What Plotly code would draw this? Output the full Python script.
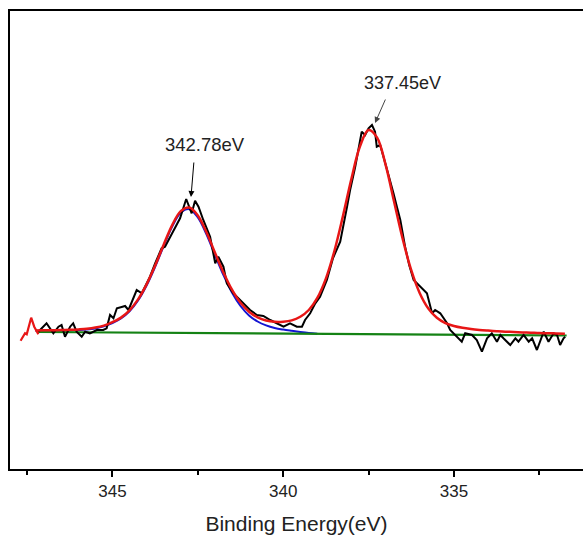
import plotly.graph_objects as go

# Raw spectrum (binding energy in eV, intensity in arbitrary units)
data_energy = [347.17, 346.93, 346.73, 346.58, 346.49, 346.39, 346.24, 346.15, 346.05, 345.90,
               345.80, 345.66, 345.46, 345.27, 345.17, 345.07, 344.97, 344.87, 344.73, 344.63,
               344.53, 344.43, 344.29, 344.14, 344.07, 343.90, 343.75, 343.56, 343.46, 343.31,
               343.17, 343.02, 342.84, 342.68, 342.58, 342.48, 342.34, 342.14, 341.99, 341.90,
               341.75, 341.65, 341.46, 341.26, 341.06, 340.97, 340.77, 340.58, 340.38, 340.19,
               339.99, 339.80, 339.60, 339.45, 339.36, 339.21, 339.06, 338.92, 338.72, 338.54,
               338.33, 338.13, 338.04, 337.89, 337.75, 337.70, 337.60, 337.50, 337.40, 337.31,
               337.26, 337.16, 337.01, 336.87, 336.77, 336.67, 336.57, 336.43, 336.31, 336.18,
               335.99, 335.79, 335.64, 335.55, 335.40, 335.20, 335.11, 334.91, 334.77, 334.67,
               334.47, 334.33, 334.18, 334.03, 333.89, 333.74, 333.64, 333.55, 333.35, 333.20,
               333.11, 332.96, 332.81, 332.71, 332.57, 332.37, 332.23, 332.08, 331.98, 331.89,
               331.79, 331.74]
data_intensity = [137.3, 145.7, 135.7, 142.3, 144.0, 132.3, 142.3, 145.7, 137.3, 132.3,
                  137.3, 135.7, 139.0, 139.0, 140.7, 154.0, 150.7, 160.7, 162.0, 163.0,
                  159.0, 167.3, 179.0, 175.7, 181.0, 192.3, 205.7, 220.7, 222.3, 232.3,
                  242.3, 250.7, 270.0, 255.7, 268.3, 262.3, 249.0, 232.3, 205.7, 212.3,
                  202.3, 185.7, 175.7, 169.0, 162.3, 159.0, 154.0, 153.0, 149.0, 145.7,
                  142.3, 145.7, 142.3, 142.3, 149.0, 155.7, 165.7, 172.3, 189.0, 211.0,
                  227.3, 262.3, 279.0, 302.3, 329.0, 337.3, 334.0, 340.7, 344.0, 337.3,
                  322.3, 324.0, 305.7, 289.0, 275.7, 262.3, 249.0, 222.3, 204.0, 189.0,
                  182.3, 175.7, 155.7, 159.0, 155.7, 145.7, 139.0, 132.3, 127.3, 135.7,
                  134.0, 129.0, 117.3, 130.7, 135.7, 127.3, 134.0, 130.7, 124.0, 130.7,
                  127.3, 134.0, 127.3, 130.7, 119.0, 137.3, 127.3, 135.7, 134.0, 124.0,
                  130.7, 132.3]

# Leading part of the trace shown in red
head_energy = [347.69, 347.56, 347.51, 347.38, 347.29, 347.17]
head_intensity = [128.3, 135.7, 134.7, 151.3, 142.3, 134.7]

# Fit grid
fit_energy = [347.25, 347.0, 346.75, 346.5, 346.25, 346.0, 345.75, 345.5, 345.25, 345.0,
              344.75, 344.5, 344.25, 344.0, 343.75, 343.5, 343.25, 343.0, 342.75, 342.5,
              342.25, 342.0, 341.75, 341.5, 341.25, 341.0, 340.75, 340.5, 340.25, 340.0,
              339.75, 339.5, 339.25, 339.0, 338.75, 338.5, 338.25, 338.0, 337.75, 337.5,
              337.25, 337.0, 336.75, 336.5, 336.25, 336.0, 335.75, 335.5, 335.25, 335.0,
              334.75, 334.5, 334.25, 334.0, 333.75, 333.5, 333.25, 333.0, 332.75, 332.5,
              332.25, 332.0, 331.75]
# Cumulative fit envelope (red)
envelope = [138.5, 138.7, 138.8, 138.9, 139.2, 139.6, 140.2, 141.4, 143.4, 146.8,
            151.4, 158.7, 169.6, 184.6, 203.4, 224.3, 243.9, 257.9, 261.5, 253.5,
            237.0, 216.5, 196.6, 179.3, 166.2, 157.3, 151.7, 148.5, 147.2, 147.3,
            148.6, 152.2, 159.0, 171.1, 190.4, 218.0, 252.9, 290.4, 322.7, 338.9,
            331.4, 304.1, 267.0, 230.0, 198.8, 175.8, 160.5, 151.2, 145.9, 143.0,
            141.2, 140.0, 139.1, 138.4, 137.8, 137.3, 137.0, 136.6, 136.3, 135.9,
            135.8, 135.5, 135.3]
# 342.78 eV component (blue)
comp_a_energy = fit_energy[:34]
comp_a = [138.0, 138.2, 138.2, 138.3, 138.6, 138.9, 139.5, 140.6, 142.6, 145.9,
          150.5, 157.7, 168.5, 183.5, 202.2, 223.0, 242.5, 256.3, 259.8, 251.6,
          234.9, 214.2, 194.0, 176.4, 163.0, 153.6, 147.5, 143.6, 141.0, 139.4,
          138.2, 137.1, 136.1, 135.3]
# Background (green)
bg_energy = [347.2, 331.7]
bg_intensity = [137.0, 133.5]

peak_labels = ["342.78eV", "337.45eV"]

FONT = "Liberation Sans, Arial, sans-serif"
RED = "rgb(232,22,22)"
fig = go.Figure()
fig.add_trace(go.Scatter(x=comp_a_energy, y=comp_a, mode="lines", line=dict(color="rgb(20,20,210)", width=2, shape="spline"), showlegend=False))
fig.add_trace(go.Scatter(x=bg_energy, y=bg_intensity, mode="lines", line=dict(color="rgb(20,130,20)", width=2.2), showlegend=False))
fig.add_trace(go.Scatter(x=data_energy, y=data_intensity, mode="lines", line=dict(color="black", width=2), showlegend=False))
fig.add_trace(go.Scatter(x=head_energy, y=head_intensity, mode="lines", line=dict(color=RED, width=2.2), showlegend=False))
fig.add_trace(go.Scatter(x=fit_energy, y=envelope, mode="lines", line=dict(color=RED, width=2.5, shape="spline"), showlegend=False))

# Arrows
fig.add_annotation(x=342.70, y=272, ax=3, ay=-36, text="", showarrow=True, arrowhead=2, arrowsize=1.2, arrowwidth=1, arrowcolor="black")
fig.add_annotation(x=337.31, y=346, ax=11, ay=-25, text="", showarrow=True, arrowhead=2, arrowsize=1.2, arrowwidth=1, arrowcolor="#444")
# Labels
fig.add_annotation(x=342.30, y=325, text=peak_labels[0], showarrow=False, font=dict(size=18.5, color="#222", family=FONT))
fig.add_annotation(x=336.52, y=386, text=peak_labels[1], showarrow=False, font=dict(size=18, color="#222", family=FONT))

fig.update_layout(
    width=583, height=539,
    margin=dict(l=10, r=0, t=11, b=70),
    paper_bgcolor="white", plot_bgcolor="white",
    font=dict(family=FONT, color="#222"),
    xaxis=dict(range=[348.0, 331.22], showline=True, linecolor="black", linewidth=1.5, mirror=True,
               ticks="outside", ticklen=6, tickwidth=1.5, tickcolor="black",
               tickvals=[345, 340, 335], tickfont=dict(size=17),
               minor=dict(tickvals=[347.5, 342.5, 337.5, 332.5], ticks="outside", ticklen=4, tickwidth=1.5, tickcolor="black"),
               showgrid=False, zeroline=False,
               title=dict(text="Binding Energy(eV)", font=dict(size=21), standoff=16)),
    yaxis=dict(range=[0, 458], showline=True, linecolor="black", linewidth=1.5, mirror=False,
               showticklabels=False, ticks="", showgrid=False, zeroline=False),
)
fig.write_html("out.html")
